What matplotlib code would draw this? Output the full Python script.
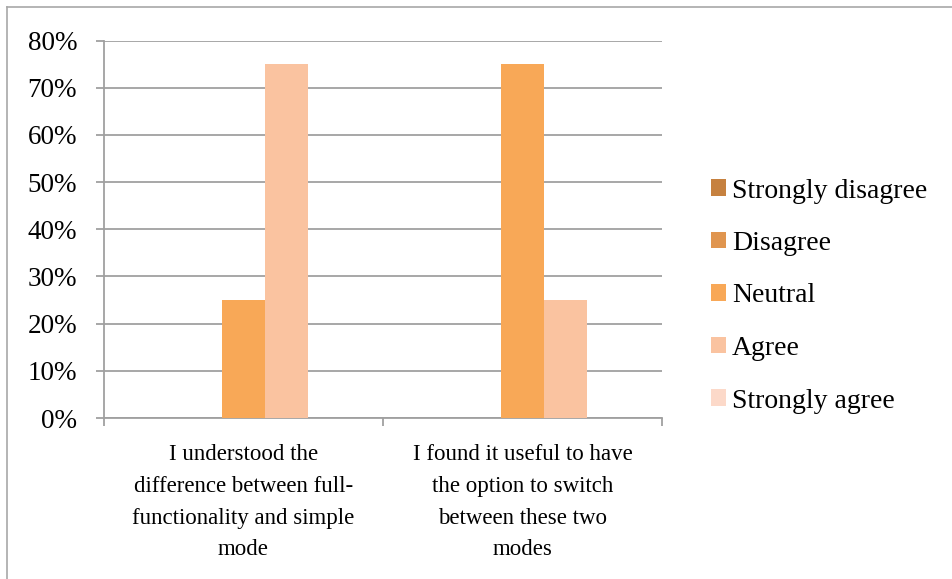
import numpy as np
import matplotlib
matplotlib.use("Agg")
import matplotlib.pyplot as plt
from matplotlib.lines import Line2D
from matplotlib.ticker import PercentFormatter

plt.rcParams['font.family'] = ['Liberation Serif', 'DejaVu Serif']

# données
categories = ["I understood the\ndifference between full-\nfunctionality and simple\nmode",
              "I found it useful to have\nthe option to switch\nbetween these two\nmodes"]
series = ["Strongly disagree", "Disagree", "Neutral", "Agree", "Strongly agree"]
strongly_disagree = [0.0, 0.0]
disagree = [0.0, 0.0]
neutral = [0.25, 0.75]
agree = [0.75, 0.25]
strongly_agree = [0.0, 0.0]
values = [strongly_disagree, disagree, neutral, agree, strongly_agree]
colors = ['#C6813F', '#E0954F', '#F8A857', '#FAC3A0', '#FCD9C9']

W, H = 953, 579
fig = plt.figure(figsize=(W / 100, H / 100), dpi=100)
ax = fig.add_axes([104 / W, 1 - 418 / H, (662 - 104) / W, (418 - 40.5) / H])

x = np.arange(len(categories))
w = 1 / 6.5
for i, (name, vals) in enumerate(zip(series, values)):
    ax.bar(x + (i - 2) * w, vals, width=w, color=colors[i], label=name, zorder=3)

ax.set_xlim(-0.5, len(categories) - 0.5)
ax.set_ylim(0, 0.8)
ax.set_yticks(np.arange(0, 0.81, 0.1))
ax.yaxis.set_major_formatter(PercentFormatter(1.0, decimals=0))
ax.grid(axis='y', color='#A0A0A0', lw=1.3, zorder=0)

ax.set_xticks(x)
ax.set_xticklabels(categories, fontsize=16.5, linespacing=1.66)
ax.set_xticks(np.arange(-0.5, len(categories), 1.0), minor=True)
ax.tick_params(axis='x', which='major', length=0, pad=19)
ax.tick_params(axis='x', which='minor', length=5.5, color='#A0A0A0', width=1.3)
ax.tick_params(axis='y', length=5.8, color='#A0A0A0', width=1.3, labelsize=19.5, pad=13.5)

for s in ['top', 'right']:
    ax.spines[s].set_visible(False)
for s in ['left', 'bottom']:
    ax.spines[s].set_color('#A0A0A0')
    ax.spines[s].set_linewidth(1.3)

fig.legend(loc='center left', bbox_to_anchor=(711 / W, 1 - 296 / H), frameon=False,
           fontsize=20, handlelength=0.54, handleheight=0.54, handletextpad=0.22,
           labelspacing=0.99, borderpad=0, borderaxespad=0)

# cadre du graphique
fig.add_artist(Line2D([7 / W, 1], [1 - 6.5 / H] * 2, color='#A8A8A8', lw=1.2))
fig.add_artist(Line2D([7 / W] * 2, [0, 1 - 6.5 / H], color='#A8A8A8', lw=1.2))

fig.savefig('out.png', dpi=100)
